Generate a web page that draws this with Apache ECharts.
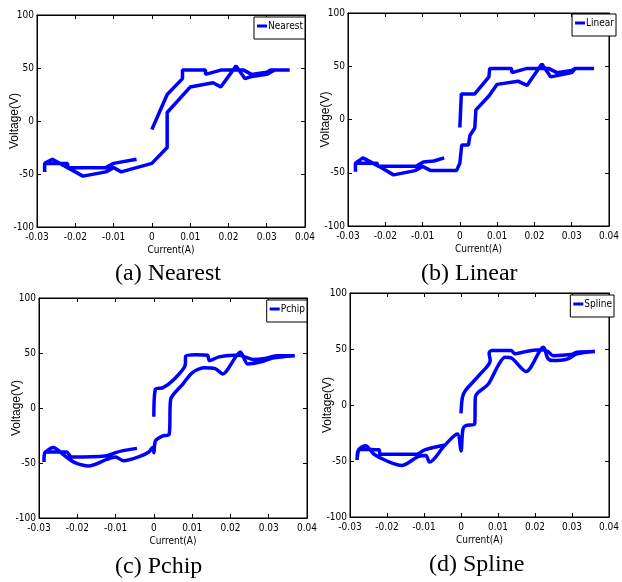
<!DOCTYPE html>
<html>
<head>
<meta charset="utf-8">
<script src="https://cdn.jsdelivr.net/npm/echarts@6/dist/echarts.min.js"></script>
<style>
  html, body { margin: 0; padding: 0; background: #fff; }
  #chart { width: 622px; height: 582px; }
</style>
</head>
<body>
<div id="chart"></div>
<script>
// axis ticks
const xTicks = [-0.03, -0.02, -0.01, 0, 0.01, 0.02, 0.03, 0.04];
const yTicks = [-100, -50, 0, 50, 100];

const seriesNames = ['Nearest', 'Linear', 'Pchip', 'Spline'];
const captions = ['(a) Nearest', '(b) Linear', '(c) Pchip', '(d) Spline'];

// [current (A), voltage (V)], in drawing order
const nearestPath = [
  [0, -8], [0.004, 25], [0.008, 40], [0.008, 48], [0.014, 48], [0.014, 44], [0.018, 48],
  [0.024, 48], [0.026, 44], [0.03, 46], [0.031, 48], [0.036, 48],
  [0.032, 48], [0.03, 44], [0.026, 42], [0.0243, 40], [0.022, 52], [0.018, 32], [0.016, 36],
  [0.010, 32], [0.004, 8], [0.004, -25], [0, -40], [-0.008, -48], [-0.010, -44], [-0.012, -48],
  [-0.018, -52], [-0.022, -44], [-0.026, -36], [-0.028, -40], [-0.028, -48],
  [-0.028, -40], [-0.022, -40], [-0.022, -44], [-0.012, -44], [-0.010, -40], [-0.004, -36]
];

const linearPath = [
  [0, -7.5], [0.0004, 24], [0.004, 24], [0.0078, 40], [0.008, 48], [0.0138, 48], [0.014, 44],
  [0.018, 48], [0.0238, 48], [0.026, 44], [0.03, 46], [0.031, 48], [0.036, 48],
  [0.031, 48], [0.03, 44], [0.0244, 40], [0.022, 52], [0.018, 32], [0.0156, 36], [0.010, 33],
  [0.0078, 22], [0.0043, 9], [0.004, -8], [0.0027, -15], [0.0023, -24], [0.0005, -24],
  [0, -41], [-0.0009, -48], [-0.0078, -48], [-0.010, -44], [-0.012, -48], [-0.0178, -52],
  [-0.0217, -44], [-0.026, -36], [-0.028, -41], [-0.028, -49],
  [-0.028, -41], [-0.0222, -41], [-0.022, -44], [-0.0118, -44], [-0.0098, -40], [-0.007, -39],
  [-0.0042, -36]
];

const pchipPath = [
  [0, -8], [0.0004, 17], [0.0024, 18.5], [0.0048, 24.5], [0.0082, 39], [0.0083, 47],
  [0.011, 48.5], [0.014, 48], [0.0145, 43], [0.017, 46.5], [0.0206, 48], [0.0224, 48],
  [0.0237, 46.5], [0.026, 44], [0.029, 45], [0.032, 47.5], [0.0368, 47.5],
  [0.031, 45.5], [0.028, 42], [0.0245, 40], [0.0226, 51], [0.018, 31], [0.016, 35.8],
  [0.013, 36.7], [0.010, 32], [0.0075, 21.5], [0.0044, 8], [0.004, -24], [0.0022, -25.5],
  [0.0004, -30], [0, -40.6], [-0.0004, -36], [-0.0013, -40], [-0.004, -44.5], [-0.0079, -48],
  [-0.010, -44.5], [-0.0123, -46.7], [-0.017, -52.7], [-0.0206, -49.7], [-0.0232, -43.6],
  [-0.0263, -36], [-0.0285, -41], [-0.0287, -49],
  [-0.0285, -40], [-0.0228, -40], [-0.0215, -44.5], [-0.0127, -43.6], [-0.010, -40.6],
  [-0.0083, -39], [-0.0044, -36.7]
];

const splinePath = [
  [0, -7.5], [0.0004, 7], [0.0012, 13], [0.0048, 26.3], [0.0079, 39.7], [0.0076, 46.3],
  [0.0083, 48.7], [0.0136, 48.7], [0.0145, 45.7], [0.0176, 47.8], [0.0216, 49.3],
  [0.0234, 48], [0.025, 44], [0.0296, 45], [0.0313, 47], [0.0362, 47.8],
  [0.0313, 45.7], [0.0287, 41], [0.0247, 39.7], [0.0234, 42], [0.0223, 51.6], [0.0176, 30],
  [0.0136, 42], [0.0119, 42.7], [0.010, 35], [0.0074, 18.8], [0.0039, 7.5], [0.0037, -17],
  [0.0012, -18.5], [0.0005, -22], [0, -41], [-0.001, -26], [-0.0045, -36.4], [-0.0085, -51],
  [-0.0095, -45], [-0.0116, -46], [-0.016, -54], [-0.020, -50], [-0.0235, -44],
  [-0.0258, -36.4], [-0.0275, -39.4], [-0.0281, -49],
  [-0.0275, -39.4], [-0.0222, -40], [-0.0218, -44], [-0.012, -44], [-0.0098, -40],
  [-0.004, -35.5]
];

const paths = [nearestPath, linearPath, pchipPath, splinePath];
const smoothing = [false, false, 0.25, 0.3];

// panel layout
const grids = [
  { left: 37, top: 15, width: 268, height: 212 },
  { left: 348, top: 13, width: 268, height: 213 },
  { left: 39, top: 298, width: 268, height: 220 },
  { left: 350, top: 293, width: 265, height: 224 }
];
const legendPos = [
  { right: 317, top: 17 },
  { right: 6, top: 14 },
  { right: 315, top: 300 },
  { right: 8, top: 295 }
];
const captionPos = [
  { left: 115, top: 262 },
  { left: 421, top: 262 },
  { left: 115, top: 555 },
  { left: 429, top: 553 }
];

const narrow = "'Liberation Sans Narrow', 'DejaVu Sans Condensed', Arial, sans-serif";

const chart = echarts.init(document.getElementById('chart'), null, { renderer: 'canvas' });

const fmtX = v => String(Number(v.toFixed(2)));

const xAxes = [], yAxes = [], series = [], legends = [], titles = [];
grids.forEach((g, i) => {
  const common = {
    gridIndex: i,
    splitLine: { show: false },
    axisLine: { show: true, onZero: false, lineStyle: { color: '#000', width: 1 } },
    axisTick: { show: true, inside: true, length: 4, lineStyle: { color: '#000' } }
  };
  xAxes.push(Object.assign({}, common, {
    type: 'value', position: 'bottom',
    min: xTicks[0], max: xTicks[xTicks.length - 1], interval: 0.01,
    name: 'Current(A)', nameLocation: 'middle', nameGap: 18,
    nameTextStyle: { fontFamily: narrow, fontSize: 10, color: '#000' },
    axisLabel: { fontFamily: narrow, fontSize: 10, color: '#000', margin: 5, formatter: fmtX }
  }));
  xAxes.push(Object.assign({}, common, {
    type: 'value', position: 'top',
    min: xTicks[0], max: xTicks[xTicks.length - 1], interval: 0.01,
    axisLabel: { show: false }
  }));
  yAxes.push(Object.assign({}, common, {
    type: 'value', position: 'left',
    min: yTicks[0], max: yTicks[yTicks.length - 1], interval: 50,
    name: 'Voltage(V)', nameLocation: 'middle', nameGap: 16, nameRotate: 90,
    nameMoveOverlap: false,
    nameTextStyle: { fontFamily: "'Liberation Sans', Arial, sans-serif", fontSize: 12, color: '#000' },
    axisLabel: { fontFamily: narrow, fontSize: 10, color: '#000', margin: 3 }
  }));
  yAxes.push(Object.assign({}, common, {
    type: 'value', position: 'right',
    min: yTicks[0], max: yTicks[yTicks.length - 1], interval: 50,
    axisLabel: { show: false }
  }));
  series.push({
    name: seriesNames[i],
    type: 'line',
    xAxisIndex: i * 2,
    yAxisIndex: i * 2,
    data: paths[i],
    showSymbol: false,
    smooth: smoothing[i],
    lineStyle: { color: '#0000ff', width: 3.5 },
    itemStyle: { color: '#0000ff' },
    animation: false
  });
  legends.push(Object.assign({
    data: [seriesNames[i]],
    orient: 'vertical',
    backgroundColor: '#fff',
    borderColor: '#000',
    borderWidth: 1,
    padding: [4, 2, 8, 3],
    icon: 'rect',
    itemWidth: 10,
    itemHeight: 3,
    textStyle: { fontFamily: narrow, fontSize: 10, color: '#000', padding: [0, 0, 0, -4] },
    selectedMode: false
  }, legendPos[i]));
  titles.push(Object.assign({
    text: captions[i],
    padding: 0,
    textStyle: { fontFamily: "'Liberation Serif', 'Times New Roman', serif", fontSize: 24, fontWeight: 'normal', color: '#000' }
  }, captionPos[i]));
});

chart.setOption({
  backgroundColor: '#fff',
  animation: false,
  title: titles,
  legend: legends,
  grid: grids.map(g => Object.assign({ show: true, borderColor: '#000', borderWidth: 1, backgroundColor: '#fff' }, g)),
  xAxis: xAxes,
  yAxis: yAxes,
  series: series
});
</script>
</body>
</html>
